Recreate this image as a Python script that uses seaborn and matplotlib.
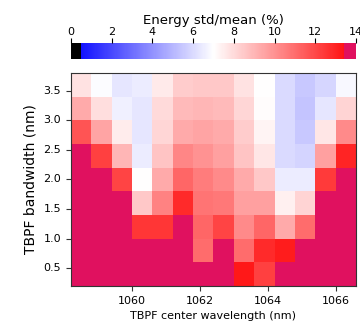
import numpy as np
import pandas as pd
import matplotlib
matplotlib.use("Agg")
import matplotlib.pyplot as plt
from matplotlib.colors import ListedColormap
import seaborn as sns

# Filter scan: centre wavelength (nm) and bandwidth (nm), cell centres
wavelengths = [1058.5, 1059.1, 1059.7, 1060.3, 1060.9, 1061.5, 1062.1,
               1062.7, 1063.3, 1063.9, 1064.5, 1065.1, 1065.7, 1066.3]
bandwidths = [3.6, 3.2, 2.8, 2.4, 2.0, 1.6, 1.2, 0.8, 0.4]
cell_w = 0.6
cell_h = 0.4

# Energy std/mean (%), one list per bandwidth row (top to bottom)
bw_36 = [7.8, 6.9, 6.3, 6.5, 7.6, 8.4, 8.5, 8.5, 7.8, 7.0, 6.0, 5.5, 5.9, 6.8]
bw_32 = [9.3, 7.9, 6.6, 6.3, 8.0, 8.9, 9.0, 8.9, 8.1, 7.1, 6.0, 5.4, 6.3, 8.2]
bw_28 = [11.7, 9.5, 7.5, 6.3, 8.1, 9.3, 9.5, 9.3, 8.4, 7.3, 6.0, 5.5, 7.7, 10.2]
bw_24 = [14.0, 12.2, 9.0, 6.5, 8.6, 10.3, 10.0, 9.6, 8.6, 7.7, 6.0, 5.8, 9.6, 13.0]
bw_20 = [14.0, 14.0, 12.1, 7.0, 9.3, 11.2, 10.6, 10.2, 9.3, 8.5, 6.5, 6.5, 12.4, 14.0]
bw_16 = [14.0, 14.0, 14.0, 8.5, 10.4, 12.8, 10.8, 10.7, 9.6, 9.6, 7.4, 8.2, 14.0, 14.0]
bw_12 = [14.0, 14.0, 14.0, 12.5, 12.5, 14.0, 11.2, 12.1, 10.2, 11.2, 9.3, 11.0, 14.0, 14.0]
bw_08 = [14.0, 14.0, 14.0, 14.0, 14.0, 14.0, 11.0, 14.0, 11.0, 12.8, 13.2, 14.0, 14.0, 14.0]
bw_04 = [14.0, 14.0, 14.0, 14.0, 14.0, 14.0, 14.0, 14.0, 13.3, 12.2, 14.0, 14.0, 14.0, 14.0]

df = pd.DataFrame([bw_36, bw_32, bw_28, bw_24, bw_20, bw_16, bw_12, bw_08, bw_04],
                  index=bandwidths, columns=wavelengths)

# bwr with black floor and ruby ceiling
colors = plt.get_cmap("bwr")(np.linspace(0, 1, 256))
colors[:9] = [0, 0, 0, 1]
colors[-11:] = matplotlib.colors.to_rgba("#e0115f")
cmap = ListedColormap(colors)

fig = plt.figure(figsize=(3.6, 3.23), dpi=100)
ax = fig.add_axes([0.197, 0.1146, 0.792, 0.6594])
cax = fig.add_axes([0.197, 0.817, 0.792, 0.0495])

sns.heatmap(df, ax=ax, cmap=cmap, vmin=0, vmax=14, cbar_ax=cax,
            cbar_kws={"orientation": "horizontal"})

# numeric ticks on the categorical heatmap grid
x0 = wavelengths[0] - cell_w / 2
y_top = bandwidths[0] + cell_h / 2
xt = [1060, 1062, 1064, 1066]
yt = [3.5, 3.0, 2.5, 2.0, 1.5, 1.0, 0.5]
ax.set_xticks([(v - x0) / cell_w for v in xt])
ax.set_xticklabels([str(v) for v in xt], rotation=0, fontsize=8)
ax.set_yticks([(y_top - v) / cell_h for v in yt])
ax.set_yticklabels([f"{v:.1f}" for v in yt], rotation=0, fontsize=8)
ax.tick_params(length=3.5, color="#333333")
for s in ax.spines.values():
    s.set_visible(True)
    s.set_color("#333333")
    s.set_linewidth(0.8)

ax.set_xlabel("TBPF center wavelength (nm)", fontsize=8)
ax.set_ylabel("TBPF bandwidth (nm)", fontsize=10)

cax.xaxis.set_ticks_position("top")
cax.xaxis.set_label_position("top")
cax.set_xticks([0, 2, 4, 6, 8, 10, 12, 14])
cax.tick_params(labelsize=8, length=3.5, pad=1)
cax.set_xlabel("Energy std/mean (%)", fontsize=9.5, labelpad=2)

fig.savefig("out.png", dpi=100)
